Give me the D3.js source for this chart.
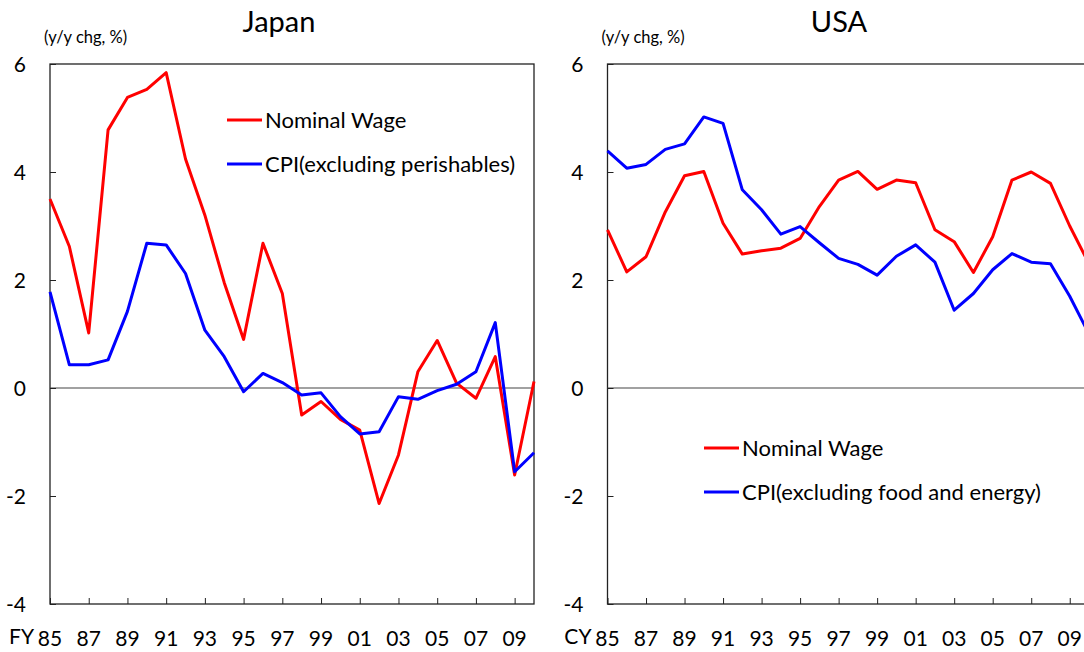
<!DOCTYPE html>
<html>
<head>
<meta charset="utf-8">
<script src="https://cdn.jsdelivr.net/npm/d3@7"></script>
<style>
  body { margin: 0; background: #fff; }
  svg { display: block; font-family: Lato, "Open Sans", sans-serif; }
</style>
</head>
<body>
<svg id="chart" width="1084" height="652"></svg>
<script>
// fiscal / calendar years 1985 - 2010
const years = d3.range(1985, 2011);

const japanWage = [3.5, 2.62, 1.02, 4.78, 5.38, 5.53, 5.84, 4.24, 3.2, 1.95, 0.9, 2.68, 1.75,
  -0.5, -0.25, -0.58, -0.78, -2.14, -1.24, 0.3, 0.88, 0.09, -0.19, 0.58, -1.61, 0.12];
const japanCpi = [1.78, 0.43, 0.43, 0.52, 1.42, 2.68, 2.65, 2.12, 1.07, 0.58, -0.07, 0.27, 0.1,
  -0.13, -0.09, -0.53, -0.85, -0.81, -0.16, -0.21, -0.05, 0.07, 0.3, 1.21, -1.55, -1.2];

const usaWage = [2.93, 2.15, 2.43, 3.26, 3.93, 4.01, 3.05, 2.48, 2.54, 2.59, 2.77, 3.36, 3.85,
  4.01, 3.68, 3.85, 3.8, 2.93, 2.71, 2.14, 2.8, 3.85, 4.0, 3.79, 3.0, 2.3];
const usaCpi = [4.39, 4.07, 4.14, 4.42, 4.52, 5.02, 4.9, 3.67, 3.3, 2.85, 2.99, 2.69, 2.4,
  2.29, 2.09, 2.44, 2.65, 2.33, 1.44, 1.75, 2.19, 2.49, 2.33, 2.3, 1.7, 1.0];

const yTicks = [-4, -2, 0, 2, 4, 6];
const xTicks = d3.range(1985, 2011, 2);

const panels = [
  { title: "Japan", prefix: "FY", left: 50, right: 534, titleX: 279,
    wage: japanWage, cpi: japanCpi,
    legend: { x: 227, y: 120, cpiLabel: "CPI(excluding perishables)" } },
  { title: "USA", prefix: "CY", left: 607.5, right: 1089, titleX: 839,
    wage: usaWage, cpi: usaCpi,
    legend: { x: 704, y: 448, cpiLabel: "CPI(excluding food and energy)" } }
];

const plotTop = 64, plotBottom = 604;
const svg = d3.select("#chart");
svg.append("rect").attr("width", 1084).attr("height", 652).attr("fill", "white");

const drawPanel = (p) => {
  const x = d3.scaleLinear().domain([1985, 2010]).range([p.left, p.right]);
  const y = d3.scaleLinear().domain([-4, 6]).range([plotBottom, plotTop]);
  const g = svg.append("g");

  // frame
  g.append("rect")
    .attr("x", p.left).attr("y", plotTop)
    .attr("width", p.right - p.left).attr("height", plotBottom - plotTop)
    .attr("fill", "none").attr("stroke", "#222").attr("stroke-width", 1.3);

  // zero line
  g.append("line")
    .attr("x1", p.left).attr("x2", p.right)
    .attr("y1", y(0)).attr("y2", y(0))
    .attr("stroke", "#444").attr("stroke-width", 1.2);

  // y axis (ticks inward)
  const yAxis = g.append("g")
    .attr("transform", `translate(${p.left},0)`)
    .call(d3.axisRight(y).tickValues(yTicks).tickSize(6).tickFormat(""));
  yAxis.select(".domain").remove();
  yAxis.selectAll("line").attr("stroke", "#222");
  g.selectAll("text.ylab")
    .data(yTicks)
    .enter()
    .append("text")
    .attr("class", "ylab")
    .attr("x", p.left - 24)
    .attr("y", (d) => y(d))
    .attr("dy", "0.36em")
    .attr("text-anchor", "end")
    .attr("font-size", 21)
    .text((d) => d);

  // x axis (ticks pointing up)
  const xAxis = g.append("g")
    .attr("transform", `translate(0,${plotBottom})`)
    .call(d3.axisTop(x).tickValues(xTicks).tickSize(6).tickFormat(""));
  xAxis.select(".domain").remove();
  xAxis.selectAll("line").attr("stroke", "#222");
  g.selectAll("text.xlab")
    .data(xTicks)
    .enter()
    .append("text")
    .attr("class", "xlab")
    .attr("x", (d) => x(d))
    .attr("y", 646)
    .attr("text-anchor", "middle")
    .attr("font-size", 21)
    .text((d) => d3.format("02")(d % 100));
  g.append("text")
    .attr("x", x(1985) - 16)
    .attr("y", 644)
    .attr("text-anchor", "end")
    .attr("font-size", 21)
    .text(p.prefix);

  // titles
  g.append("text")
    .attr("x", p.titleX).attr("y", 32)
    .attr("text-anchor", "middle")
    .attr("font-size", 29)
    .text(p.title);
  g.append("text")
    .attr("x", p.left - 6).attr("y", 43)
    .attr("font-size", 16.5)
    .text("(y/y chg, %)");

  // lines
  const line = d3.line()
    .x((d, i) => x(years[i]))
    .y((d) => y(d));
  [[p.wage, "#ff0000"], [p.cpi, "#0000ff"]].forEach(([vals, color]) => {
    g.append("path")
      .attr("fill", "none")
      .attr("stroke", color)
      .attr("stroke-width", 3)
      .attr("stroke-linejoin", "round")
      .attr("d", line(vals));
  });

  // legend
  const lg = [["Nominal Wage", "#ff0000"], [p.legend.cpiLabel, "#0000ff"]];
  lg.forEach(([label, color], i) => {
    const ly = p.legend.y + i * 44;
    g.append("line")
      .attr("x1", p.legend.x).attr("x2", p.legend.x + 35)
      .attr("y1", ly).attr("y2", ly)
      .attr("stroke", color).attr("stroke-width", 3);
    g.append("text")
      .attr("x", p.legend.x + 38)
      .attr("y", ly + 8)
      .attr("font-size", 22)
      .text(label);
  });
};

panels.forEach(drawPanel);
</script>
</body>
</html>
